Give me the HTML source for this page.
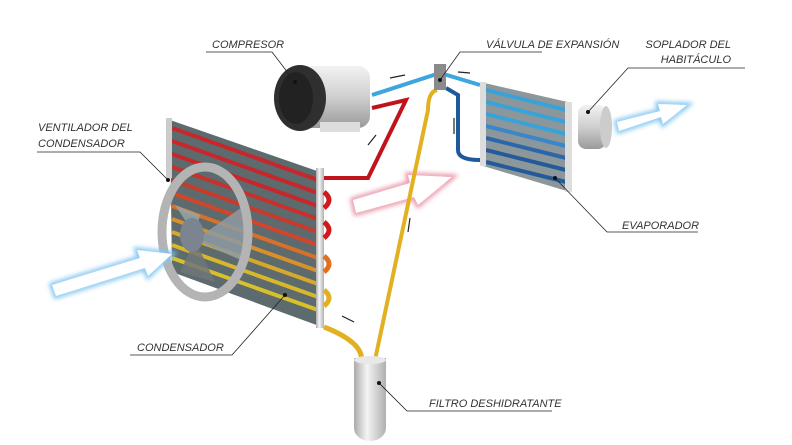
<!DOCTYPE html>
<html><head><meta charset="utf-8"><style>
html,body{margin:0;padding:0;background:#fff;}
svg{display:block;}
text{font-family:"Liberation Sans",sans-serif;font-style:italic;font-size:11px;fill:#333;}
</style></head><body>
<svg width="792" height="445" viewBox="0 0 792 445" xmlns="http://www.w3.org/2000/svg">
<defs>
<linearGradient id="silver" x1="0" y1="0" x2="0" y2="1"><stop offset="0" stop-color="#f2f2f2"/><stop offset=".5" stop-color="#cfcfcf"/><stop offset="1" stop-color="#9a9a9a"/></linearGradient>
<linearGradient id="silverh" x1="0" y1="0" x2="1" y2="0"><stop offset="0" stop-color="#aaa"/><stop offset=".4" stop-color="#f4f4f4"/><stop offset="1" stop-color="#b0b0b0"/></linearGradient>
<filter id="glowb" x="-30%" y="-50%" width="160%" height="200%"><feGaussianBlur stdDeviation="2.5"/></filter>
</defs>

<!-- Condenser panel -->
<polygon points="170,120 320,172 322,327 172,272" fill="#5d6a6e"/>
<g stroke-width="4" fill="none">
<line x1="172" y1="128" x2="318" y2="180" stroke="#c8262a"/>
<line x1="172" y1="141" x2="318" y2="193" stroke="#c8262a"/>
<line x1="172" y1="154" x2="318" y2="206" stroke="#c8262a"/>
<line x1="172" y1="167" x2="318" y2="219" stroke="#c8302a"/>
<line x1="172" y1="180" x2="318" y2="232" stroke="#c83a2a"/>
<line x1="172" y1="193" x2="318" y2="245" stroke="#d2452a"/>
<line x1="172" y1="206" x2="318" y2="258" stroke="#d8702a"/>
<line x1="172" y1="219" x2="318" y2="271" stroke="#d8902a"/>
<line x1="172" y1="232" x2="318" y2="284" stroke="#d8a82a"/>
<line x1="172" y1="245" x2="318" y2="297" stroke="#d8b82a"/>
<line x1="172" y1="258" x2="318" y2="310" stroke="#d8c02a"/>
</g>
<rect x="166" y="118" width="6" height="60" fill="#ccc"/>
<rect x="316" y="168" width="8" height="160" fill="url(#silverh)"/>
<g fill="none" stroke-width="5">
<path d="M324,192 q10,8 0,16" stroke="#d0181e"/>
<path d="M324,222 q10,8 0,16" stroke="#d0181e"/>
<path d="M324,256 q10,8 0,16" stroke="#e07020"/>
<path d="M324,290 q10,8 0,16" stroke="#e0b020"/>
</g>

<!-- fan -->
<polygon points="195,240 245,205 245,262" fill="#8e9aa2" opacity=".85"/>
<polygon points="195,240 180,272 215,282" fill="#6f757a" opacity=".85"/>
<polygon points="195,235 175,205 200,215" fill="#9aa" opacity=".8"/>
<ellipse cx="192" cy="235" rx="12" ry="17" fill="#7c8490"/>
<ellipse cx="205" cy="232" rx="43" ry="65" fill="none" stroke="#b4b4b4" stroke-width="9"/>

<!-- Blue arrow left -->
<polygon points="52,285 140,258 137,250 172,254 148,276 145,268 56,296" fill="#fff" stroke="#7cc4f0" stroke-width="5" filter="url(#glowb)"/>
<polygon points="52,285 140,258 137,250 172,254 148,276 145,268 56,296" fill="#fff"/>

<!-- Pink arrow -->
<polygon points="353,200 410,183 408,175 452,177 418,205 414,197 356,213" fill="#fff" stroke="#e890a4" stroke-width="5" filter="url(#glowb)"/>
<polygon points="353,200 410,183 408,175 452,177 418,205 414,197 356,213" fill="#fff"/>

<!-- pipes -->
<path d="M372,95 L440,73 L480,85" fill="none" stroke="#3ea6dc" stroke-width="4"/>
<path d="M372,108 L406,100 L368,178 L324,178" fill="none" stroke="#c0141a" stroke-width="4"/>
<path d="M437,90 Q428,92 428,110 L375,360" fill="none" stroke="#e2b020" stroke-width="4"/>
<path d="M324,327 Q345,335 355,345 Q362,352 362,362" fill="none" stroke="#e2b020" stroke-width="5"/>
<path d="M446,88 L458,95 L458,150 Q458,160 480,160" fill="none" stroke="#1c5a9a" stroke-width="4"/>

<!-- compressor -->
<rect x="300" y="66" width="70" height="62" rx="12" fill="url(#silver)"/>
<rect x="320" y="122" width="40" height="10" fill="#ddd"/>
<ellipse cx="300" cy="98" rx="26" ry="33" fill="#2f2f2f"/>
<ellipse cx="296" cy="98" rx="17" ry="26" fill="#222"/>

<!-- valve -->
<rect x="434" y="64" width="12" height="26" fill="#8a8a8a"/>

<!-- evaporator -->
<polygon points="480,82 572,103 570,192 480,165" fill="#8c979c"/>
<g stroke-width="4">
<line x1="486" y1="90" x2="566" y2="110" stroke="#39a2d8"/>
<line x1="486" y1="102" x2="566" y2="122" stroke="#39a2d8"/>
<line x1="486" y1="114" x2="566" y2="134" stroke="#39a2d8"/>
<line x1="486" y1="126" x2="566" y2="146" stroke="#3a86c8"/>
<line x1="486" y1="138" x2="566" y2="158" stroke="#2a66a8"/>
<line x1="486" y1="150" x2="566" y2="170" stroke="#245a9a"/>
<line x1="486" y1="162" x2="566" y2="182" stroke="#245a9a"/>
</g>
<rect x="480" y="82" width="6" height="84" fill="#ddd"/>
<rect x="565" y="102" width="7" height="90" fill="#ddd"/>
<!-- blower -->
<rect x="578" y="105" width="28" height="44" rx="8" fill="url(#silver)"/>
<ellipse cx="606" cy="127" rx="6" ry="21" fill="#ccc"/>

<!-- blue arrow right -->
<polygon points="617,122 660,111 658,104 687,105 663,124 661,117 619,131" fill="#fff" stroke="#7cc4f0" stroke-width="5" filter="url(#glowb)"/>
<polygon points="617,122 660,111 658,104 687,105 663,124 661,117 619,131" fill="#fff"/>

<!-- filter drier -->
<rect x="354" y="358" width="32" height="70" fill="url(#silverh)"/>
<ellipse cx="370" cy="428" rx="16" ry="13" fill="url(#silverh)"/>
<ellipse cx="370" cy="360" rx="16" ry="4" fill="#e8e8e8"/>

<!-- small flow arrows -->
<g stroke="#222" stroke-width="1.2" fill="#222">
<line x1="405" y1="75" x2="390" y2="78"/><line x1="470" y1="73" x2="458" y2="72"/>
<line x1="376" y1="135" x2="368" y2="145"/><line x1="454" y1="118" x2="454" y2="134"/>
<line x1="408" y1="232" x2="410" y2="218"/><line x1="342" y1="316" x2="354" y2="322"/>
</g>

<!-- labels -->
<g stroke="#222" stroke-width="0.8" fill="none">
<polyline points="206,52 272,52 295,82"/>
<polyline points="542,52 460,52 440,80"/>
<polyline points="745,68 628,68 588,112"/>
<polyline points="37,152 140,152 168,180"/>
<polyline points="698,232 607,232 555,178"/>
<polyline points="130,355 232,355 285,295"/>
<polyline points="552,411 407,411 379,383"/>
</g>
<g fill="#111">
<circle cx="295" cy="82" r="2"/><circle cx="440" cy="80" r="2"/><circle cx="588" cy="112" r="2"/>
<circle cx="168" cy="180" r="2"/><circle cx="555" cy="178" r="2"/><circle cx="285" cy="295" r="2"/><circle cx="379" cy="383" r="2"/>
</g>
<text x="212" y="48">COMPRESOR</text>
<text x="486" y="48">VÁLVULA DE EXPANSIÓN</text>
<text x="731" y="48" text-anchor="end">SOPLADOR DEL</text>
<text x="731" y="63" text-anchor="end">HABITÁCULO</text>
<text x="38" y="131">VENTILADOR DEL</text>
<text x="38" y="147">CONDENSADOR</text>
<text x="622" y="229">EVAPORADOR</text>
<text x="137" y="351">CONDENSADOR</text>
<text x="429" y="407">FILTRO DESHIDRATANTE</text>
</svg>
</body></html>
